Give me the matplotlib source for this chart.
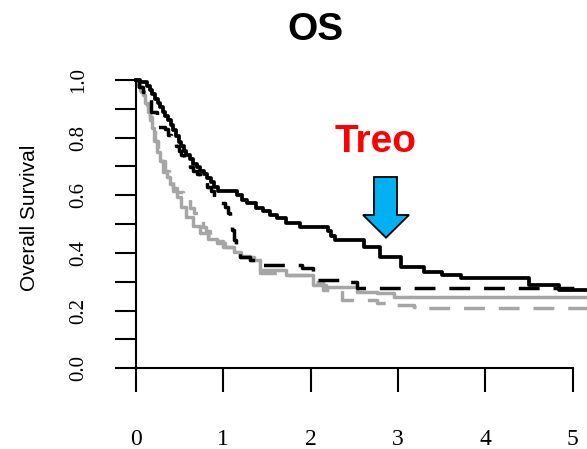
import matplotlib
matplotlib.use('Agg')
import matplotlib.pyplot as plt
from matplotlib.patches import Polygon

# Kaplan-Meier style step curves (years, survival)
treo_t = [0, 0.05, 0.13, 0.16, 0.19, 0.22, 0.25, 0.28, 0.31, 0.34, 0.37, 0.40, 0.43, 0.46,
          0.49, 0.52, 0.55, 0.58, 0.62, 0.66, 0.70, 0.74, 0.78, 0.82, 0.86, 0.90, 0.94, 1.16,
          1.22, 1.27, 1.38, 1.46, 1.54, 1.62, 1.72, 1.88, 2.2, 2.24, 2.28, 2.61, 2.8, 3.04,
          3.3, 3.5, 3.72, 4.5, 4.84, 5.2]
treo_s = [1.0, 0.994, 0.98, 0.965, 0.95, 0.935, 0.92, 0.905, 0.89, 0.875, 0.86, 0.845, 0.825,
          0.805, 0.785, 0.77, 0.755, 0.74, 0.725, 0.71, 0.698, 0.686, 0.674, 0.66, 0.645, 0.63,
          0.615, 0.601, 0.585, 0.572, 0.555, 0.545, 0.532, 0.52, 0.505, 0.49, 0.475, 0.46,
          0.445, 0.422, 0.387, 0.352, 0.335, 0.324, 0.312, 0.289, 0.272, 0.272]

bdash_t = [0, 0.04, 0.08, 0.11, 0.145, 0.18, 0.24, 0.34, 0.37, 0.40, 0.43, 0.46, 0.49, 0.52,
           0.55, 0.58, 0.62, 0.66, 0.70, 0.74, 0.78, 0.82, 0.86, 0.90, 0.96, 1.02, 1.06, 1.08,
           1.10, 1.12, 1.15, 1.19, 1.31, 1.42, 1.9, 2.03, 2.45, 2.53, 5.2]
bdash_s = [1.0, 0.975, 0.96, 0.95, 0.937, 0.89, 0.838, 0.83, 0.81, 0.795, 0.78, 0.77, 0.755,
           0.74, 0.725, 0.71, 0.698, 0.686, 0.674, 0.66, 0.645, 0.63, 0.615, 0.595, 0.575, 0.56,
           0.538, 0.51, 0.48, 0.445, 0.42, 0.387, 0.376, 0.358, 0.347, 0.306, 0.3, 0.277, 0.277]

gray_t = [0, 0.02, 0.05, 0.087, 0.11, 0.144, 0.165, 0.183, 0.21, 0.24, 0.28, 0.316, 0.355,
          0.39, 0.43, 0.47, 0.52, 0.58, 0.65, 0.735, 0.83, 0.93, 1.02, 1.12, 1.2, 1.31, 1.42,
          1.72, 2.03, 2.18, 2.53, 2.76, 2.95, 5.2]
gray_s = [1.0, 0.983, 0.965, 0.948, 0.92, 0.89, 0.86, 0.832, 0.79, 0.751, 0.72, 0.682, 0.665,
          0.64, 0.615, 0.595, 0.56, 0.526, 0.495, 0.468, 0.45, 0.434, 0.42, 0.404, 0.39, 0.376,
          0.341, 0.324, 0.289, 0.283, 0.266, 0.26, 0.248, 0.248]

gdash_t = [0, 0.03, 0.06, 0.09, 0.126, 0.16, 0.19, 0.22, 0.25, 0.29, 0.33, 0.38, 0.43, 0.47,
           0.545, 0.62, 0.67, 0.72, 0.77, 0.81, 0.85, 0.92, 1.0, 1.1, 1.19, 1.35, 1.42, 1.72,
           2.03, 2.14, 2.36, 2.76, 2.95, 3.18, 3.35, 5.2]
gdash_s = [1.0, 0.98, 0.96, 0.94, 0.913, 0.87, 0.83, 0.79, 0.75, 0.72, 0.685, 0.65, 0.625,
           0.613, 0.59, 0.555, 0.54, 0.526, 0.49, 0.476, 0.462, 0.44, 0.422, 0.405, 0.387,
           0.364, 0.33, 0.324, 0.3, 0.272, 0.237, 0.225, 0.22, 0.214, 0.208, 0.208]

x_ticks = [0, 1, 2, 3, 4, 5]
y_ticks = [0.0, 0.2, 0.4, 0.6, 0.8, 1.0]
y_minor = [0.1, 0.3, 0.5, 0.7, 0.9]

W, H = 587, 449
fig = plt.figure(figsize=(W / 100, H / 100), dpi=100)
ax = fig.add_axes([135.7 / W, 1 - 368.3 / H, (W - 135.7) / W, 288.3 / H])
ax.set_xlim(0, (W - 135.7) / 87.4)
ax.set_ylim(0, 1)

grey = '#a6a6a6'
lw = 2.5
dash = (0, (6, 4))
ax.step(gray_t, gray_s, where='post', color=grey, lw=lw, clip_on=False)
ax.step(gdash_t, gdash_s, where='post', color=grey, lw=lw, ls=dash, clip_on=False)
ax.step(bdash_t, bdash_s, where='post', color='black', lw=lw, ls=dash, clip_on=False)
ax.step(treo_t, treo_s, where='post', color='black', lw=2.7, clip_on=False)

for s in ['top', 'right']:
    ax.spines[s].set_visible(False)
ax.spines['left'].set_bounds(0, 1)
ax.spines['bottom'].set_bounds(0, 5)
ax.spines['left'].set_linewidth(1.5)
ax.spines['bottom'].set_linewidth(1.5)

ax.set_xticks(x_ticks)
ax.set_xticklabels([str(v) for v in x_ticks], fontfamily='Liberation Serif', fontsize=17)
ax.set_yticks(y_ticks)
ax.set_yticklabels(['%.1f' % v for v in y_ticks], fontfamily='Liberation Serif',
                   fontsize=15, rotation=90, va='center')
ax.set_yticks(y_minor, minor=True)
ax.tick_params(axis='x', length=17, width=1.5, pad=27, color='black')
ax.tick_params(axis='y', which='both', length=15, width=1.5, pad=19, color='black')

fig.text(30 / W, 1 - 218 / H, 'Overall Survival', rotation=90, ha='center', va='center',
         family='Liberation Sans', size=15)
fig.text(315 / W, 1 - 30 / H, 'OS', ha='center', va='center', family='Liberation Sans',
         weight='bold', size=28)
fig.text(376 / W, 1 - 142 / H, 'Treo', ha='center', va='center', family='Liberation Sans',
         weight='bold', size=28, color='#ff0000')

# blue arrow pointing at the Treo curve (pixel geometry converted to data units)
def px(x, y):
    return ((x - 135.7) / 87.4, (368.3 - y) / 288.3)

arrow = [px(374, 177), px(397, 177), px(397, 215), px(409, 215), px(386, 237.7),
         px(363, 215), px(374, 215)]
ax.add_patch(Polygon(arrow, closed=True, facecolor='#00b0f0', edgecolor='black', lw=1.3,
                     clip_on=False, zorder=5))

fig.savefig('out.png', dpi=100)
